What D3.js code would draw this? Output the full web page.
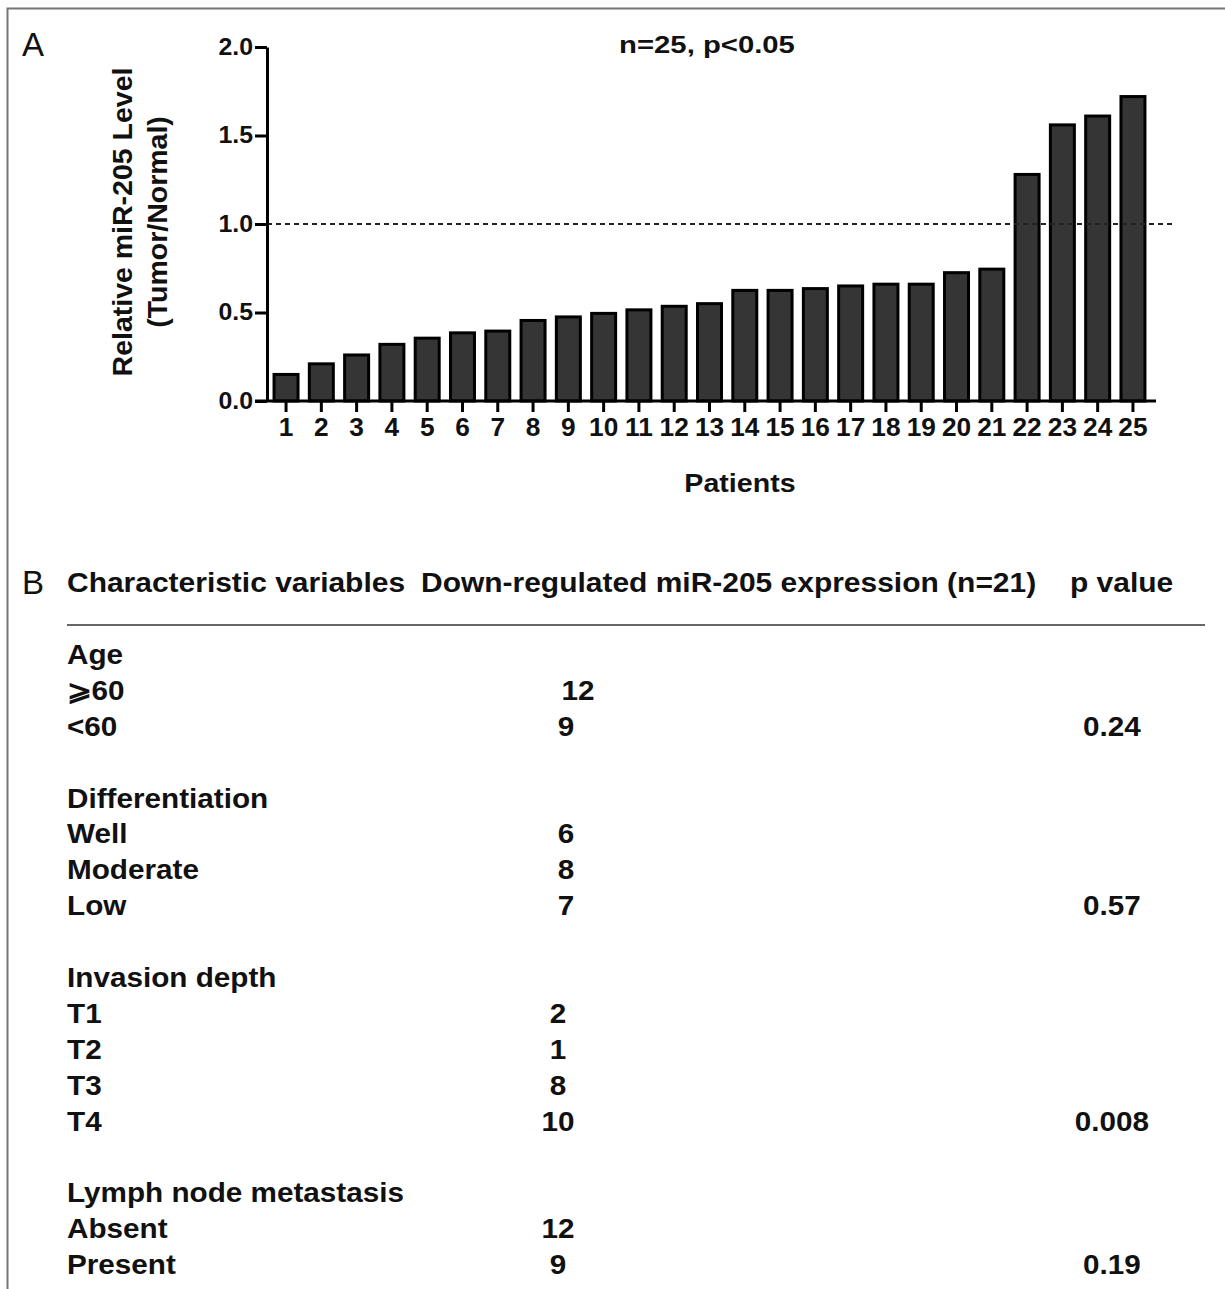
<!DOCTYPE html>
<html>
<head>
<meta charset="utf-8">
<script src="https://cdn.jsdelivr.net/npm/d3@7"></script>
<style>
  body { margin: 0; background: #fff; }
  svg text { font-family: "Liberation Sans", Arial, sans-serif; fill: #111; }
</style>
</head>
<body>
<script>
// patients sorted by relative miR-205 level (tumor / normal)
const patients = d3.range(1, 26).map(String);
const levels = [0.15, 0.21, 0.26, 0.32, 0.355, 0.385, 0.395, 0.455, 0.475, 0.495,
                0.515, 0.535, 0.55, 0.625, 0.625, 0.635, 0.65, 0.66, 0.66, 0.725,
                0.745, 1.28, 1.56, 1.61, 1.72];
const yTicks = [0, 0.5, 1.0, 1.5, 2.0];
const cutoff = 1.0;

// table B
const headers = ["Characteristic variables", "Down-regulated miR-205 expression (n=21)", "p value"];
const groups = ["Age", "Differentiation", "Invasion depth", "Lymph node metastasis"];
const subLabels = [["⩾60", "<60"], ["Well", "Moderate", "Low"], ["T1", "T2", "T3", "T4"], ["Absent", "Present"]];
const counts = [[12, 9], [6, 8, 7], [2, 1, 8, 10], [12, 9]];
const pValues = ["0.24", "0.57", "0.008", "0.19"];

const W = 1225, H = 1289;
const svg = d3.select("body").append("svg").attr("width", W).attr("height", H);

// widen a text selection horizontally (the figure is slightly stretched)
function stretch(sel, k) {
  sel.each(function () {
    const len = this.getComputedTextLength();
    d3.select(this).attr("textLength", len * k).attr("lengthAdjust", "spacingAndGlyphs");
  });
}

// frame
svg.append("rect").attr("x", 7.5).attr("y", 8.5).attr("width", W + 10).attr("height", H + 10)
  .attr("fill", "none").attr("stroke", "#777").attr("stroke-width", 2);

// panel letters
svg.append("text").attr("x", 22).attr("y", 56).attr("font-size", 33).text("A");
svg.append("text").attr("x", 22).attr("y", 594).attr("font-size", 33).text("B");

// ---------- panel A: bar chart ----------
const x = d3.scaleBand().domain(patients).range([268.4, 1150.6]).paddingInner(0.32).paddingOuter(0.16);
const y = d3.scaleLinear().domain([0, 2]).range([401, 47]);
const axisX0 = 267;

// bars
svg.append("g").selectAll("rect").data(levels).join("rect")
  .attr("x", (d, i) => x(patients[i]))
  .attr("y", d => y(d))
  .attr("width", x.bandwidth())
  .attr("height", d => y(0) - y(d))
  .attr("fill", "#353535")
  .attr("stroke", "#000")
  .attr("stroke-width", 3);

// dashed reference line at 1.0
svg.append("line")
  .attr("x1", axisX0).attr("x2", 1172)
  .attr("y1", y(cutoff)).attr("y2", y(cutoff))
  .attr("stroke", "#222").attr("stroke-width", 2).attr("stroke-dasharray", "5,4");

// y axis
const gy = svg.append("g").attr("transform", `translate(${axisX0},0)`)
  .call(d3.axisLeft(y).tickValues(yTicks).tickFormat(d3.format(".1f")).tickSize(12).tickSizeOuter(0).tickPadding(2));
gy.select(".domain").attr("stroke", "#000").attr("stroke-width", 3);
gy.selectAll(".tick line").attr("stroke", "#000").attr("stroke-width", 3);
gy.selectAll(".tick text").attr("font-size", 23).attr("font-weight", "bold").attr("fill", "#111")
  .attr("font-family", "Liberation Sans, Arial, sans-serif").call(stretch, 1.08);

// x axis
const gx = svg.append("g").attr("transform", `translate(0,${y(0)})`)
  .call(d3.axisBottom(x).tickSize(11).tickSizeOuter(0).tickPadding(6));
gx.select(".domain").remove();
gx.selectAll(".tick line").attr("stroke", "#000").attr("stroke-width", 3);
gx.selectAll(".tick text").attr("font-size", 25).attr("font-weight", "bold").attr("fill", "#111")
  .attr("font-family", "Liberation Sans, Arial, sans-serif").call(stretch, 1.05);
svg.append("line").attr("x1", axisX0 - 12).attr("x2", 1156)
  .attr("y1", y(0)).attr("y2", y(0)).attr("stroke", "#000").attr("stroke-width", 3);

// titles
svg.append("text").attr("x", 707).attr("y", 53).attr("text-anchor", "middle")
  .attr("font-size", 24).attr("font-weight", "bold").text("n=25, p<0.05").call(stretch, 1.22);
svg.append("text").attr("x", 740).attr("y", 492).attr("text-anchor", "middle")
  .attr("font-size", 26).attr("font-weight", "bold").text("Patients").call(stretch, 1.1);
const yl = svg.append("text").attr("transform", "translate(140,222) rotate(-90)")
  .attr("text-anchor", "middle").attr("font-size", 28.5).attr("font-weight", "bold");
yl.append("tspan").attr("x", 0).attr("dy", -8).text("Relative miR-205 Level");
yl.append("tspan").attr("x", 0).attr("dy", 35).text("(Tumor/Normal)");

// ---------- panel B: table ----------
const colX = [67, 421, 1070];
svg.append("g").selectAll("text").data(headers).join("text")
  .attr("x", (d, i) => colX[i]).attr("y", 592)
  .attr("font-size", 28).attr("font-weight", "bold")
  .text(d => d).call(stretch, 1.07);

svg.append("line").attr("x1", 67).attr("x2", 1205).attr("y1", 625).attr("y2", 625)
  .attr("stroke", "#666").attr("stroke-width", 2);

// build table rows from the group arrays
const countX = [[578, 566], [566, 566, 566], [558, 558, 558, 558], [558, 558]];
const rows = [];
let idx = 0;
groups.forEach((g, gi) => {
  rows.push({ label: g, row: idx++ });
  subLabels[gi].forEach((s, si) => {
    const last = si === subLabels[gi].length - 1;
    rows.push({ label: s, row: idx++, count: counts[gi][si], cx: countX[gi][si], p: last ? pValues[gi] : null });
  });
  idx++; // blank line between groups
});

const rowY = d3.scaleLinear().domain([0, 17]).range([654, 1264]);

const tb = svg.append("g").attr("font-size", 28).attr("font-weight", "bold");
tb.selectAll("text.lab").data(rows).join("text").attr("class", "lab")
  .attr("x", 67).attr("y", d => rowY(d.row)).attr("dy", "0.36em")
  .text(d => d.label).call(stretch, 1.06);
tb.selectAll("text.cnt").data(rows.filter(d => d.count != null)).join("text").attr("class", "cnt")
  .attr("x", d => d.cx).attr("y", d => rowY(d.row)).attr("dy", "0.36em")
  .attr("text-anchor", "middle").text(d => d.count).call(stretch, 1.06);
tb.selectAll("text.pv").data(rows.filter(d => d.p)).join("text").attr("class", "pv")
  .attr("x", 1112).attr("y", d => rowY(d.row)).attr("dy", "0.36em")
  .attr("text-anchor", "middle").text(d => d.p).call(stretch, 1.06);
</script>
</body>
</html>
